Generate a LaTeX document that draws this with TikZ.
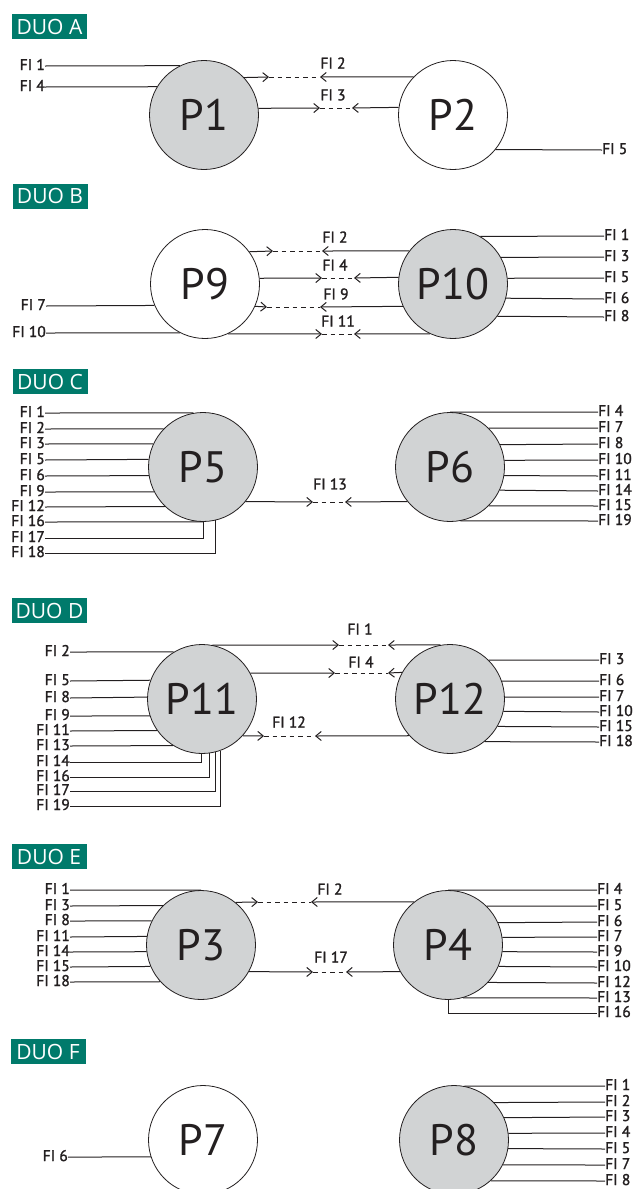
\documentclass[tikz,border=0pt]{standalone}
\usepackage{fontspec}
\setmainfont{Open Sans}
\newfontfamily\labfont{PT Sans}[FakeBold=1.5]
\newfontfamily\bigfont{PT Sans}
\usetikzlibrary{arrows.meta}
\definecolor{duoteal}{HTML}{007A6B}
\definecolor{pgray}{HTML}{D1D3D4}
\definecolor{ln}{HTML}{231F20}
\def\crad{54.9}
\tikzset{
  lab/.style={font=\labfont\fontsize{15.5}{15.5}\selectfont, inner sep=0pt, text=ln, text height=11pt, text depth=3pt},
  alab/.style={font=\labfont\fontsize{15.5}{15.5}\selectfont, inner sep=0pt, text=ln},
  pc/.style={circle, draw=ln, line width=0.8pt, minimum size=109pt, inner sep=0pt, text=ln, font=\bigfont\fontsize{44}{44}\selectfont},
  gp/.style={pc, fill=pgray},
  wp/.style={pc, fill=white},
  duo/.style={fill=duoteal, text=white, minimum width=75pt, minimum height=25pt, inner sep=0pt, font=\fontsize{21}{21}\selectfont},
  wire/.style={draw=ln, line width=1pt},
  tipw/.style={wire, -{Straight Barb[length=5.5pt,width=9pt]}},
  gapw/.style={wire, dash pattern=on 4.5pt off 4pt},
}
% left wire: circle, cy, y, label x, text
\newcommand\wireL[5]{%
  \pgfmathsetmacro\wang{180-asin(max(-1,min(1,(#2-#3)/\crad)))}%
  \node[lab, anchor=east] (L#1y#3) at (#4,#3) {#5};%
  \draw[wire] (#1.\wang) -- (L#1y#3.east);%
}
% right wire
\newcommand\wireR[5]{%
  \pgfmathsetmacro\wang{asin(max(-1,min(1,(#2-#3)/\crad)))}%
  \node[lab, anchor=west] (L#1y#3) at (#4,#3) {#5};%
  \draw[wire] (#1.\wang) -- (L#1y#3.west);%
}
% bottom wire to the left: circle, cx, x, y, label x, text
\newcommand\wireBL[6]{%
  \pgfmathsetmacro\wang{-acos((#3-#2)/\crad)}%
  \node[lab, anchor=east] (L#1y#4) at (#5,#4) {#6};%
  \draw[wire] (#1.\wang) |- (L#1y#4.east);%
}
\newcommand\wireBR[6]{%
  \pgfmathsetmacro\wang{-acos((#3-#2)/\crad)}%
  \node[lab, anchor=west] (L#1y#4) at (#5,#4) {#6};%
  \draw[wire] (#1.\wang) |- (L#1y#4.west);%
}
% link: left circle, right circle, cy, y, tipL x, tipR x, text, label x, label y
\newcommand\wireA[9]{%
  \pgfmathsetmacro\wangL{asin(max(-1,min(1,(#3-#4)/\crad)))}%
  \pgfmathsetmacro\wangR{180-\wangL}%
  \coordinate (tl#4) at (#5,#4);%
  \coordinate (tr#4) at (#6,#4);%
  \draw[tipw] (#1.\wangL) -- (tl#4);%
  \draw[gapw] (tl#4) -- (tr#4);%
  \draw[tipw] (#2.\wangR) -- (tr#4);%
  \node[alab] (al#4) at (#8,#9) {#7};%
}
\begin{document}
\begin{tikzpicture}[x=1pt,y=-1pt]
\useasboundingbox (0,0) rectangle (633,1189);
\clip (0,0) rectangle (633,1189);
\fill[white] (0,0) rectangle (633,1189);

% ---------- DUO A
\node[duo] (dA) at (49.5,26.5) {DUO A};
\node[gp] (P1) at (204,115) {P1};
\node[wp] (P2) at (453,115) {P2};
\wireL{P1}{115}{66}{45}{FI 1}
\wireL{P1}{115}{87}{45}{FI 4}
\wireA{P1}{P2}{115}{77}{269}{320}{FI 2}{333}{63}
\wireA{P1}{P2}{115}{108}{320}{352}{FI 3}{333}{95}
\wireR{P2}{115}{150}{602}{FI 5}

% ---------- DUO B
\node[duo] (dB) at (50,196) {DUO B};
\node[wp] (P9) at (205,284) {P9};
\node[gp] (P10) at (453,284) {P10};
\wireL{P9}{284}{306}{46}{FI 7}
\wireL{P9}{284}{333}{46}{FI 10}
\wireA{P9}{P10}{284}{251}{273}{322}{FI 2}{335}{237}
\wireA{P9}{P10}{284}{278}{322}{354}{FI 4}{335}{265}
\wireA{P9}{P10}{284}{307}{267}{320}{FI 9}{336}{294}
\wireA{P9}{P10}{284}{334}{322}{354}{FI 11}{338}{321}
\wireR{P10}{284}{236}{604}{FI 1}
\wireR{P10}{284}{257}{604}{FI 3}
\wireR{P10}{284}{278}{604}{FI 5}
\wireR{P10}{284}{299}{604}{FI 6}
\wireR{P10}{284}{317}{604}{FI 8}

% ---------- DUO C
\node[duo] (dC) at (50,381.5) {DUO C};
\node[gp] (P5) at (203,467) {P5};
\node[gp] (P6) at (450,467) {P6};
\wireL{P5}{467}{413}{45}{FI 1}
\wireL{P5}{467}{429}{45}{FI 2}
\wireL{P5}{467}{444}{45}{FI 3}
\wireL{P5}{467}{460}{45}{FI 5}
\wireL{P5}{467}{476}{45}{FI 6}
\wireL{P5}{467}{492}{45}{FI 9}
\wireL{P5}{467}{507}{45}{FI 12}
\wireL{P5}{467}{522}{45}{FI 16}
\wireBL{P5}{203}{203}{538}{45}{FI 17}
\wireBL{P5}{203}{215}{553}{45}{FI 18}
\wireA{P5}{P6}{467}{502}{313}{345}{FI 13}{330}{484}
\wireR{P6}{467}{412}{598}{FI 4}
\wireR{P6}{467}{428}{598}{FI 7}
\wireR{P6}{467}{444}{598}{FI 8}
\wireR{P6}{467}{460}{598}{FI 10}
\wireR{P6}{467}{476}{598}{FI 11}
\wireR{P6}{467}{491}{598}{FI 14}
\wireR{P6}{467}{506}{598}{FI 15}
\wireR{P6}{467}{521}{598}{FI 19}

% ---------- DUO D
\node[duo] (dD) at (49.5,610.5) {DUO D};
\node[gp] (P11) at (202,699) {P11};
\node[gp] (P12) at (450,699) {P12};
\wireL{P11}{699}{652}{70}{FI 2}
\wireL{P11}{699}{681}{70}{FI 5}
\wireL{P11}{699}{698}{70}{FI 8}
\wireL{P11}{699}{716}{70}{FI 9}
\wireL{P11}{699}{731}{70}{FI 11}
\wireL{P11}{699}{746}{70}{FI 13}
\wireBL{P11}{202}{201}{762}{70}{FI 14}
\wireBL{P11}{202}{209}{777}{70}{FI 16}
\wireBL{P11}{202}{215}{791}{70}{FI 17}
\wireBL{P11}{202}{220}{806}{70}{FI 19}
\wireA{P11}{P12}{699}{645}{339}{388}{FI 1}{360}{629}
\wireA{P11}{P12}{699}{673}{335}{388}{FI 4}{361}{662}
\wireA{P11}{P12}{699}{736}{264}{315}{FI 12}{289}{722}
\wireR{P12}{699}{660}{599}{FI 3}
\wireR{P12}{699}{681}{599}{FI 6}
\wireR{P12}{699}{697}{599}{FI 7}
\wireR{P12}{699}{712}{599}{FI 10}
\wireR{P12}{699}{727}{599}{FI 15}
\wireR{P12}{699}{742}{599}{FI 18}

% ---------- DUO E
\node[duo] (dE) at (49,856.5) {DUO E};
\node[gp] (P3) at (201,945) {P3};
\node[gp] (P4) at (448,945) {P4};
\wireL{P3}{945}{890}{70}{FI 1}
\wireL{P3}{945}{906}{70}{FI 3}
\wireL{P3}{945}{921}{70}{FI 8}
\wireL{P3}{945}{937}{70}{FI 11}
\wireL{P3}{945}{952}{70}{FI 14}
\wireL{P3}{945}{967}{70}{FI 15}
\wireL{P3}{945}{982}{70}{FI 18}
\wireA{P3}{P4}{945}{902}{258}{311}{FI 2}{330}{889}
\wireA{P3}{P4}{945}{972}{313}{346}{FI 17}{331}{957}
\wireR{P4}{945}{890}{597}{FI 4}
\wireR{P4}{945}{906}{597}{FI 5}
\wireR{P4}{945}{922}{597}{FI 6}
\wireR{P4}{945}{937}{597}{FI 7}
\wireR{P4}{945}{952}{597}{FI 9}
\wireR{P4}{945}{967}{597}{FI 10}
\wireR{P4}{945}{983}{597}{FI 12}
\wireR{P4}{945}{998}{597}{FI 13}
\wireBR{P4}{448}{448}{1013}{597}{FI 16}

% ---------- DUO F
\node[duo] (dF) at (48,1051.5) {DUO F};
\node[wp] (P7) at (203,1140) {P7};
\node[gp] (P8) at (454,1140) {P8};
\wireL{P7}{1140}{1157}{68}{FI 6}
\wireR{P8}{1140}{1086}{605}{FI 1}
\wireR{P8}{1140}{1102}{605}{FI 2}
\wireR{P8}{1140}{1117}{605}{FI 3}
\wireR{P8}{1140}{1133}{605}{FI 4}
\wireR{P8}{1140}{1149}{605}{FI 5}
\wireR{P8}{1140}{1165}{605}{FI 7}
\wireR{P8}{1140}{1181}{605}{FI 8}
\end{tikzpicture}
\end{document}
